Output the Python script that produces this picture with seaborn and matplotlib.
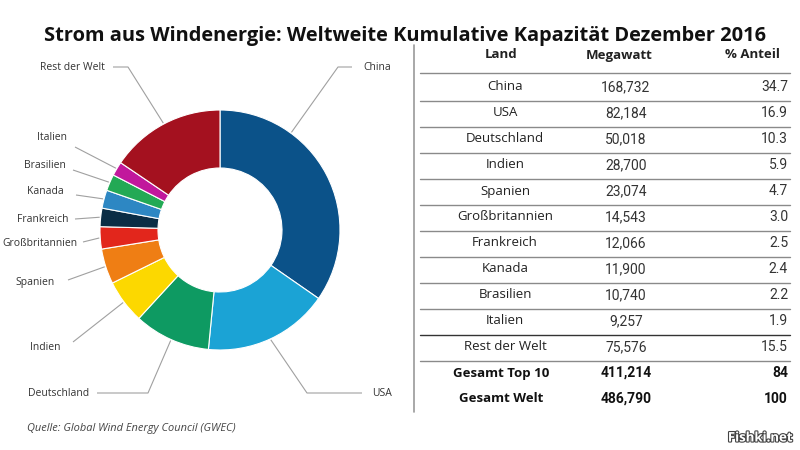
import matplotlib
matplotlib.use("Agg")
import matplotlib.pyplot as plt
import matplotlib.patheffects as pe
import numpy as np
import seaborn as sns

# ---------------- data ----------------
title = "Strom aus Windenergie: Weltweite Kumulative Kapazität Dezember 2016"
countries = ["China", "USA", "Deutschland", "Indien", "Spanien", "Großbritannien",
             "Frankreich", "Kanada", "Brasilien", "Italien", "Rest der Welt"]
megawatt = [168732, 82184, 50018, 28700, 23074, 14543, 12066, 11900, 10740, 9257, 75576]
anteil = ["34.7", "16.9", "10.3", "5.9", "4.7", "3.0", "2.5", "2.4", "2.2", "1.9", "15.5"]
total_labels = ["Gesamt Top 10", "Gesamt Welt"]
total_megawatt = [411214, 486790]
total_anteil = ["84", "100"]
header = ["Land", "Megawatt", "% Anteil"]
source = "Quelle: Global Wind Energy Council (GWEC)"
watermark = "Fishki.net"
colors_hex = ["#0b5289", "#1ba3d5", "#0e9a62", "#fcd800", "#ef7e14", "#e2261c",
              "#0b2d45", "#2d87c3", "#23a955", "#c1189c", "#a4111f"]

# ---------------- style ----------------
sns.set_theme(style="white")
plt.rcParams["font.family"] = ["Open Sans", "DejaVu Sans"]
palette = sns.color_palette(colors_hex)
NUMFONT = ["Roboto", "DejaVu Sans"]

W, H = 800, 450
fig = plt.figure(figsize=(8, 4.5), dpi=100)
fig.patch.set_facecolor("white")
ax = fig.add_axes([0, 0, 1, 1])


def py(y):
    return H - y


# ---------------- donut ----------------
cx, cy, R, RING = 220, py(230), 120, 58
wedges, _ = ax.pie(megawatt, colors=palette, startangle=90, counterclock=False,
                   center=(cx, cy), radius=R,
                   wedgeprops=dict(width=RING, edgecolor="white", linewidth=0.8))
ax.set_xlim(0, W)
ax.set_ylim(0, H)
ax.set_aspect("auto")
ax.axis("off")

# label layout: text x, text y, ha, line start (x, y), elbow x (or None), anchor fraction in wedge
label_layout = {
    "China": (363, 67, "left", (352, 67), 338, 0.29),
    "USA": (372, 393, "left", (362, 393), 307, 0.5),
    "Deutschland": (28, 393, "left", (97, 393), 148, 0.5),
    "Indien": (30, 347, "left", (73, 342), None, 0.5),
    "Spanien": (15, 282, "left", (68, 280), None, 0.5),
    "Großbritannien": (2, 244, "left", (83, 242), None, 0.5),
    "Frankreich": (17, 219, "left", (75, 219), None, 0.5),
    "Kanada": (27, 192, "left", (76, 195), None, 0.5),
    "Brasilien": (24, 165, "left", (73, 170), None, 0.5),
    "Italien": (37, 137, "left", (75, 147), None, 0.5),
    "Rest der Welt": (40, 67, "left", (113, 67), 128, 0.5),
}
for w, name in zip(wedges, countries):
    tx, ty, ha, (sx, sy), ex, frac = label_layout[name]
    a1, a2 = w.theta1, w.theta2
    ang = np.deg2rad(a2 - (a2 - a1) * frac)
    axp, ayp = cx + (R + 1) * np.cos(ang), cy + (R + 1) * np.sin(ang)
    xs, ys = [sx], [py(sy)]
    if ex is not None:
        xs.append(ex)
        ys.append(py(sy))
    xs.append(axp)
    ys.append(ayp)
    ax.plot(xs, ys, color="#a0a0a0", lw=0.8, solid_capstyle="butt")
    ax.text(tx, py(ty), name, ha=ha, va="center", fontsize=7.5, color="#333333")

ax.text(27, py(428), source, ha="left", va="center", fontsize=7.9, style="italic",
        color="#444444")

# ---------------- title ----------------
ax.text(405, py(41), title, ha="center", va="baseline", fontsize=14.4,
        fontweight="bold", color="#111111")

# ---------------- table ----------------
x_land, x_mw, x_pct = 505, 626, 788
x_l0, x_l1 = 420, 790
y_head, y0, step = 55, 87, 26

ax.plot([414, 414], [py(45), py(412)], color="#9a9a9a", lw=1.2)
ax.text(x_land - 4, py(y_head), header[0], ha="center", va="center", fontsize=9.5,
        fontweight="bold", color="#222222")
ax.text(x_mw - 7, py(y_head), header[1], ha="center", va="center", fontsize=9.5,
        fontweight="bold", color="#222222")
ax.text(752, py(y_head), header[2], ha="center", va="center", fontsize=9.5,
        fontweight="bold", color="#222222")
ax.plot([x_l0, x_l1], [py(73), py(73)], color="#8a8a8a", lw=1.0)

for i, (name, mw, pct) in enumerate(zip(countries, megawatt, anteil)):
    y = y0 + step * i
    ax.text(x_land, py(y), name, ha="center", va="center", fontsize=9.5, color="#222222")
    ax.text(x_mw, py(y), f"{mw:,}", ha="center", va="center", fontsize=10,
            color="#333333", family=NUMFONT)
    ax.text(x_pct, py(y), pct, ha="right", va="center", fontsize=10,
            color="#333333", family=NUMFONT)
    yl = y + 13.5
    dark = (name == "Italien")
    ax.plot([x_l0, x_l1], [py(yl), py(yl)], color="#333333" if dark else "#8a8a8a",
            lw=1.0)

for j, (name, mw, pct) in enumerate(zip(total_labels, total_megawatt, total_anteil)):
    y = y0 + step * (len(countries) + j)
    ax.text(x_land - 4, py(y), name, ha="center", va="center", fontsize=9.5,
            fontweight="bold", color="#111111")
    ax.text(x_mw, py(y), f"{mw:,}", ha="center", va="center", fontsize=10,
            fontweight="bold", color="#111111", family=NUMFONT)
    ax.text(x_pct, py(y), pct, ha="right", va="center", fontsize=10,
            fontweight="bold", color="#111111", family=NUMFONT)

# ---------------- watermark ----------------
ax.text(793, py(438), watermark, ha="right", va="center", fontsize=9.5,
        fontweight="bold", color="white",
        path_effects=[pe.withStroke(linewidth=1.6, foreground="#444444")])

fig.savefig("out.png", dpi=100, facecolor="white")
